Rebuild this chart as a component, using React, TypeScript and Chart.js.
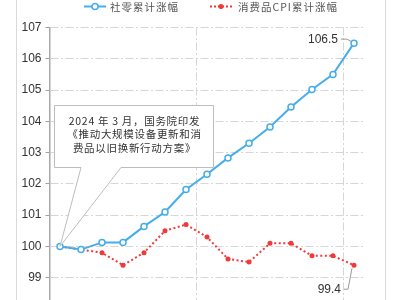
import { useEffect, useRef } from 'react';
import { Chart, registerables } from 'chart.js';

Chart.register(...registerables);

const categories = [
  '2024-03', '2024-04', '2024-05', '2024-06', '2024-07', '2024-08', '2024-09', '2024-10',
  '2024-11', '2024-12', '2025-01', '2025-02', '2025-03', '2025-04', '2025-05',
];
const seriesNames = ['社零累计涨幅', '消费品CPI累计涨幅'];
const retailGrowth = [100, 99.9, 100.13, 100.13, 100.64, 101.1, 101.82, 102.31, 102.83, 103.3, 103.82, 104.46, 105.02, 105.5, 106.5];
const cpiGrowth = [100, 99.9, 99.8, 99.4, 99.8, 100.5, 100.7, 100.3, 99.6, 99.5, 100.1, 100.1, 99.7, 99.7, 99.4];
const yMin = 98;
const yMax = 107;
const yStep = 1;
const annotationLines = ['2024 年 3 月，国务院印发', '《推动大规模设备更新和消', '费品以旧换新行动方案》'];
const endLabels = ['106.5', '99.4'];

const BLUE = '#45aeea';
const RED = '#f03a3a';
const GRID = '#d6d6d6';
const DASH = [8, 2.5, 2, 2.5];
const CJK = '"Noto Sans CJK SC", "Noto Sans", sans-serif';

const decor = {
  id: 'decor',
  beforeDraw(chart: any) {
    const { ctx, height } = chart;
    ctx.save();
    ctx.strokeStyle = '#dadada';
    ctx.lineWidth = 1;
    ctx.strokeRect(16.5, -2, 369, height + 4);
    ctx.restore();
  },
  afterDraw(chart: any) {
    const { ctx } = chart;
    const xs = chart.scales.x;
    const ys = chart.scales.y;
    ctx.save();

    // legend
    const ly = 6.5;
    ctx.lineWidth = 2;
    ctx.strokeStyle = BLUE;
    ctx.setLineDash([]);
    ctx.beginPath(); ctx.moveTo(84, ly); ctx.lineTo(106, ly); ctx.stroke();
    ctx.fillStyle = '#fff';
    ctx.lineWidth = 1.5;
    ctx.beginPath(); ctx.arc(95, ly, 3, 0, Math.PI * 2); ctx.fill(); ctx.stroke();

    ctx.strokeStyle = RED;
    ctx.lineWidth = 2;
    ctx.setLineDash([2, 2]);
    ctx.beginPath(); ctx.moveTo(210, ly); ctx.lineTo(232, ly); ctx.stroke();
    ctx.setLineDash([]);
    ctx.fillStyle = RED;
    ctx.beginPath(); ctx.arc(221, ly, 2.5, 0, Math.PI * 2); ctx.fill();

    ctx.fillStyle = '#555';
    ctx.font = `10.5px ${CJK}`;
    ctx.textBaseline = 'middle';
    ctx.textAlign = 'left';
    (ctx as any).letterSpacing = '1px';
    ctx.fillText(seriesNames[0], 110, ly + 0.5);
    ctx.fillText(seriesNames[1], 238, ly + 0.5);

    // callout annotation
    const tx = xs.getPixelForValue(0);
    const ty = ys.getPixelForValue(cpiGrowth[0]);
    const L = 54.5, R = 213.5, T = 105.5, B = 167.5;
    ctx.beginPath();
    ctx.moveTo(L, T);
    ctx.lineTo(R, T);
    ctx.lineTo(R, B);
    ctx.lineTo(121, B);
    ctx.lineTo(tx, ty);
    ctx.lineTo(81, B);
    ctx.lineTo(L, B);
    ctx.closePath();
    ctx.fillStyle = '#fff';
    ctx.fill();
    ctx.strokeStyle = '#bdbdbd';
    ctx.lineWidth = 1;
    ctx.stroke();

    ctx.fillStyle = '#333';
    ctx.font = `10.5px ${CJK}`;
    ctx.textAlign = 'center';
    (ctx as any).letterSpacing = '0.7px';
    const lineY = [121, 134.5, 148.5];
    annotationLines.forEach((t, i) => ctx.fillText(t, 134.5, lineY[i]));
    (ctx as any).letterSpacing = '0px';

    // end labels
    const last = categories.length - 1;
    const px = xs.getPixelForValue(last);
    const p1 = ys.getPixelForValue(retailGrowth[last]);
    const p2 = ys.getPixelForValue(cpiGrowth[last]);
    ctx.strokeStyle = '#9a9a9a';
    ctx.lineWidth = 1;
    ctx.beginPath();
    ctx.moveTo(px - 13, p1 - 4); ctx.lineTo(px - 7, p1 - 4); ctx.lineTo(px - 2.5, p1 - 1.5);
    ctx.stroke();
    ctx.beginPath();
    ctx.moveTo(px - 10, p2 + 24); ctx.lineTo(px - 6, p2 + 24); ctx.lineTo(px - 2, p2 + 3);
    ctx.stroke();
    ctx.fillStyle = '#333';
    ctx.font = '12px "Liberation Sans", Arial, sans-serif';
    ctx.textAlign = 'right';
    ctx.fillText(endLabels[0], px - 16, p1 - 3.5);
    ctx.fillText(endLabels[1], px - 13, p2 + 24);

    ctx.restore();
  },
};

export default function App() {
  const ref = useRef<HTMLCanvasElement>(null);
  useEffect(() => {
    if (!ref.current) return;
    const chart = new Chart(ref.current, {
      type: 'line',
      data: {
        labels: categories,
        datasets: [
          {
            label: seriesNames[0],
            data: retailGrowth,
            borderColor: BLUE,
            borderWidth: 2,
            pointRadius: 3,
            pointBorderWidth: 1.5,
            pointBackgroundColor: '#fff',
            pointBorderColor: BLUE,
            tension: 0,
            order: 1,
          },
          {
            label: seriesNames[1],
            data: cpiGrowth,
            borderColor: RED,
            borderWidth: 2,
            borderDash: [2, 2.5],
            pointRadius: 2.5,
            pointBorderWidth: 0,
            pointBackgroundColor: RED,
            pointBorderColor: RED,
            tension: 0,
            order: 2,
          },
        ],
      },
      options: {
        responsive: true,
        maintainAspectRatio: false,
        animation: false,
        layout: { padding: { top: 27.5, left: 0, right: 35.5, bottom: 0 } },
        plugins: { legend: { display: false }, tooltip: { enabled: false } },
        scales: {
          x: {
            type: 'category',
            offset: true,
            afterFit: (s: any) => { s.height = 30; },
            grid: {
              offset: true,
              drawTicks: false,
              color: (c: any) => (c.type === 'tick' && (c.index === 7 || c.index === 14) ? GRID : 'rgba(0,0,0,0)'),
            },
            border: { display: true, color: '#a0a0a0', width: 1.5, dash: DASH } as any,
            ticks: { color: '#333', font: { size: 9 }, maxRotation: 0, autoSkip: false },
          },
          y: {
            min: yMin,
            max: yMax,
            afterFit: (s: any) => { s.width = 49.5; },
            ticks: {
              stepSize: yStep,
              color: '#333',
              padding: 4,
              font: { family: '"Liberation Sans Narrow", "Liberation Sans", Arial, sans-serif', size: 12 },
            },
            grid: {
              color: GRID,
              tickLength: 4,
              tickColor: '#a0a0a0',
              tickBorderDash: [],
            } as any,
            border: { display: true, color: '#a8a8a8', width: 1.5, dash: DASH } as any,
          },
        },
      },
      plugins: [decor],
    });
    return () => chart.destroy();
  }, []);
  return (
    <div style={{ position: 'fixed', left: 0, top: 0, width: 400, height: 300, overflow: 'hidden', background: '#fff' }}>
      <div style={{ position: 'relative', width: 400, height: 339 }}>
        <canvas ref={ref} />
      </div>
    </div>
  );
}
